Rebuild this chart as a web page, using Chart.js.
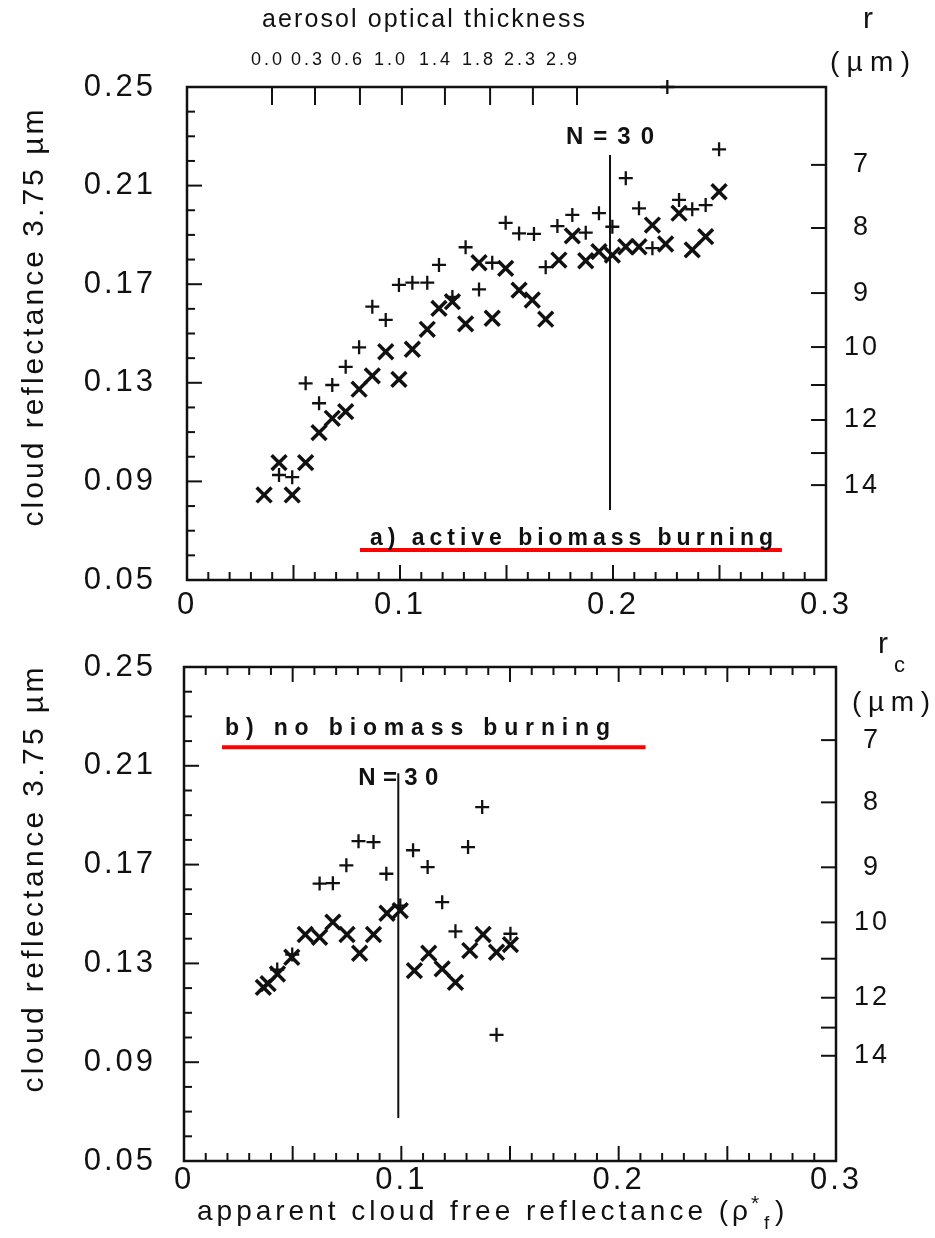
<!DOCTYPE html>
<html>
<head>
<meta charset="utf-8">
<script src="https://cdn.jsdelivr.net/npm/chart.js@4.4.1/dist/chart.umd.min.js"></script>
<style>
  body { margin: 0; background: #fff; }
  #wrap { position: relative; width: 935px; height: 1238px; }
  canvas { position: absolute; left: 0; }
</style>
</head>
<body>
<div id="wrap">
  <canvas id="panelA" width="935" height="625" style="top:0"></canvas>
  <canvas id="panelB" width="935" height="613" style="top:625px"></canvas>
</div>
<script>
// shared axes
const xMin = 0, xMax = 0.3;
const yMin = 0.05, yMax = 0.25;
const xTickVals = [0, 0.1, 0.2, 0.3];
const xTickLabels = ["0", "0.1", "0.2", "0.3"];
const yTickVals = [0.05, 0.09, 0.13, 0.17, 0.21, 0.25];

// aerosol optical thickness (top of panel a)
const aodLabels = ["0.0", "0.3", "0.6", "1.0", "1.4", "1.8", "2.3", "2.9"];
const aodLabelPos = [0.0380, 0.0568, 0.0756, 0.0958, 0.1169, 0.1371, 0.1568, 0.1765];
const aodTickPos = [0.0399, 0.0601, 0.0812, 0.1009, 0.1211, 0.1423, 0.1624, 0.1831];

// droplet radius scale on the right, placed at reflectance values
const rLabels = ["7", "8", "9", "10", "", "12", "", "14"];
const rPosA = [0.2184, 0.1928, 0.1664, 0.1445, 0.1291, 0.1149, 0.1015, 0.0885];
const rPosB = [0.2204, 0.1952, 0.1689, 0.1466, 0.1319, 0.1161, 0.1040, 0.0926];

// panel a: active biomass burning
const aPlusX = [0.0432, 0.0494, 0.0557, 0.0620, 0.0682, 0.0745, 0.0808, 0.0870, 0.0933, 0.0995, 0.1058, 0.1128,
  0.1183, 0.1246, 0.1308, 0.1371, 0.1433, 0.1496, 0.1559, 0.1629, 0.1684, 0.1739, 0.1809, 0.1872, 0.1934, 0.1997,
  0.2060, 0.2122, 0.2185, 0.2255, 0.2310, 0.2372, 0.2435, 0.2498];
const aPlusY = [0.0926, 0.0917, 0.1298, 0.1217, 0.1291, 0.1365, 0.1444, 0.1609, 0.1555, 0.1697, 0.1706, 0.1706,
  0.1778, 0.1648, 0.1850, 0.1679, 0.1787, 0.1949, 0.1906, 0.1904, 0.1769, 0.1936, 0.1981, 0.1909, 0.1988, 0.1933,
  0.2130, 0.2008, 0.1846, 0.2500, 0.2042, 0.2004, 0.2021, 0.2247];
const aCrossX = [0.0362, 0.0432, 0.0494, 0.0557, 0.0620, 0.0682, 0.0745, 0.0808, 0.0870, 0.0933, 0.0995, 0.1058,
  0.1128, 0.1183, 0.1246, 0.1308, 0.1371, 0.1433, 0.1496, 0.1559, 0.1621, 0.1684, 0.1746, 0.1809, 0.1872, 0.1934,
  0.1997, 0.2060, 0.2122, 0.2185, 0.2247, 0.2310, 0.2372, 0.2435, 0.2498];
const aCrossY = [0.0845, 0.0976, 0.0845, 0.0976, 0.1098, 0.1156, 0.1183, 0.1274, 0.1328, 0.1426, 0.1314, 0.1436,
  0.1517, 0.1602, 0.1629, 0.1539, 0.1787, 0.1562, 0.1764, 0.1676, 0.1636, 0.1558, 0.1798, 0.1896, 0.1795, 0.1832,
  0.1818, 0.1852, 0.1852, 0.1940, 0.1863, 0.1988, 0.1839, 0.1893, 0.2075];
const aNLineX = [0.1986, 0.1986];
const aNLineY = [0.2224, 0.0784];
const aRedX = [0.0812, 0.2793];
const aRedY = [0.0622, 0.0622];

// panel b: no biomass burning
const bPlusX = [0.0429, 0.0498, 0.0624, 0.0685, 0.0747, 0.0803, 0.0872, 0.0931, 0.0995, 0.1054, 0.1121, 0.1188,
  0.1249, 0.1307, 0.1372, 0.1438, 0.1502];
const bPlusY = [0.1275, 0.1336, 0.1623, 0.1625, 0.1697, 0.1795, 0.1791, 0.1663, 0.1534, 0.1758, 0.1690, 0.1548,
  0.1430, 0.1771, 0.1933, 0.1011, 0.1420];
const bCrossX = [0.0365, 0.0387, 0.0430, 0.0496, 0.0558, 0.0624, 0.0685, 0.0750, 0.0808, 0.0872, 0.0934, 0.0995,
  0.1060, 0.1126, 0.1188, 0.1249, 0.1315, 0.1376, 0.1438, 0.1502];
const bCrossY = [0.1203, 0.1218, 0.1257, 0.1325, 0.1417, 0.1406, 0.1467, 0.1417, 0.1341, 0.1417, 0.1503, 0.1514,
  0.1271, 0.1341, 0.1278, 0.1223, 0.1352, 0.1417, 0.1345, 0.1376];
const bNLineX = [0.0986, 0.0986];
const bNLineY = [0.2070, 0.0674];
const bRedX = [0.0175, 0.2124];
const bRedY = [0.2175, 0.2175];

const F = '"Liberation Sans", Arial, sans-serif';
Chart.defaults.font.family = F;
Chart.defaults.color = "#111";

const pts = (xs, ys) => xs.map((x, i) => ({ x: x, y: ys[i] }));

// draw a string stretched to a given width (the scan has very loose tracking)
function spread(ctx, str, left, cy, width, font) {
  ctx.font = font;
  ctx.letterSpacing = "0px";
  const w = ctx.measureText(str).width;
  const sp = str.length > 1 && width ? (width - w) / (str.length - 1) : 0;
  ctx.letterSpacing = sp + "px";
  ctx.textAlign = "left";
  ctx.textBaseline = "middle";
  ctx.fillText(str, left, cy);
  ctx.letterSpacing = "0px";
}

function line(ctx, x1, y1, x2, y2) {
  ctx.beginPath();
  ctx.moveTo(x1, y1);
  ctx.lineTo(x2, y2);
  ctx.stroke();
}

function decor(p) {
  return {
    id: "decor",
    beforeDraw(chart) { chart.ctx.letterSpacing = "3px"; },
    afterDraw(chart) {
      const { ctx, chartArea: a, scales } = chart;
      ctx.save();
      ctx.letterSpacing = "0px";
      ctx.strokeStyle = "#111";
      ctx.lineWidth = 2.5;
      ctx.strokeRect(a.left, a.top, a.right - a.left, a.bottom - a.top);

      ctx.lineWidth = 2;
      // left: minor every 0.01, major every 0.04
      for (let k = 5; k <= 25; k++) {
        const py = scales.y.getPixelForValue(k / 100);
        const len = (k - 5) % 4 === 0 ? 15 : 8;
        line(ctx, a.left, py, a.left + len, py);
      }
      // bottom (and top of panel b): minor 0.01, major 0.05
      for (let k = 0; k <= 30; k++) {
        const px = scales.x.getPixelForValue(k / 100);
        const len = k % 5 === 0 ? 15 : 8;
        line(ctx, px, a.bottom, px, a.bottom - len);
        if (!p.aod) line(ctx, px, a.top, px, a.top + len);
      }
      // right radius ticks
      p.rPos.forEach(v => {
        const py = scales.y.getPixelForValue(v);
        line(ctx, a.right, py, a.right - 15, py);
      });
      // aerosol ticks
      if (p.aod) {
        aodTickPos.forEach(v => {
          const px = scales.x.getPixelForValue(v);
          line(ctx, px, a.top, px, a.top + 18);
        });
      }

      ctx.fillStyle = "#111";
      p.texts.forEach(t => {
        if (t.rot) {
          ctx.save();
          ctx.translate(t.cx, t.cy);
          ctx.rotate(-Math.PI / 2);
          spread(ctx, t.s, -t.w / 2, 0, t.w, t.f);
          ctx.restore();
        } else {
          spread(ctx, t.s, t.left, t.cy, t.w || 0, t.f);
        }
      });
      const nx = scales.x.getPixelForValue(p.nX[0]);
      spread(ctx, "N=30", nx - p.nW / 2, p.nY, p.nW, "bold 24px " + F);
      ctx.restore();
    }
  };
}

// label offset goes through tickLength (marks hidden) so it does not pad the chart area
const hiddenGrid = len => ({ display: false, drawTicks: true, tickLength: len });

function makePanel(id, p) {
  const scales = {
    x: {
      type: "linear", min: xMin, max: xMax, position: "bottom",
      grid: hiddenGrid(p.xPad), border: { display: false },
      afterBuildTicks: s => { s.ticks = xTickVals.map(v => ({ value: v })); },
      afterFit: s => { s.height = p.xAxisH; },
      ticks: { callback: (v, i) => xTickLabels[i], font: { size: 31 }, padding: 0,
        autoSkip: false, maxRotation: 0, minRotation: 0 }
    },
    y: {
      type: "linear", min: yMin, max: yMax, position: "left",
      grid: hiddenGrid(p.yPad), border: { display: false },
      afterBuildTicks: s => { s.ticks = yTickVals.map(v => ({ value: v })); },
      afterFit: s => { s.width = p.left; },
      ticks: { callback: v => v.toFixed(2), font: { size: 31 }, padding: 0, autoSkip: false }
    },
    y2: {
      type: "linear", min: yMin, max: yMax, position: "right",
      grid: hiddenGrid(21), border: { display: false },
      afterBuildTicks: s => { s.ticks = p.rPos.map(v => ({ value: v })); },
      afterFit: s => { s.width = 935 - p.right; },
      ticks: { callback: (v, i) => rLabels[i], font: { size: 27 }, padding: 0,
        crossAlign: "center", autoSkip: false }
    }
  };
  if (p.aod) {
    scales.x2 = {
      type: "linear", min: xMin, max: xMax, position: "top",
      grid: hiddenGrid(16), border: { display: false },
      afterBuildTicks: s => { s.ticks = aodLabelPos.map(v => ({ value: v })); },
      afterFit: s => { s.height = p.top; },
      ticks: { callback: (v, i) => aodLabels[i], font: { size: 18 }, padding: 0,
        autoSkip: false, maxRotation: 0, minRotation: 0 }
    };
  }

  return new Chart(document.getElementById(id), {
    type: "scatter",
    data: {
      datasets: [
        { data: pts(p.plusX, p.plusY), pointStyle: "cross", pointRadius: 7, borderWidth: 2.3,
          borderColor: "#111", clip: false },
        { data: pts(p.crossX, p.crossY), pointStyle: "crossRot", pointRadius: 10.5, borderWidth: 3.5,
          borderColor: "#111", clip: false },
        { type: "line", data: pts(p.nX, p.nLineY), borderColor: "#111", borderWidth: 2, pointRadius: 0 },
        { type: "line", data: pts(p.redX, p.redY), borderColor: "#ff0000", borderWidth: 4, pointRadius: 0 }
      ]
    },
    options: {
      responsive: false,
      animation: false,
      devicePixelRatio: 1,
      events: [],
      layout: { padding: { top: p.aod ? 0 : p.top, left: 0, right: 0, bottom: 0 } },
      plugins: { legend: { display: false }, tooltip: { enabled: false } },
      scales: scales
    },
    plugins: [decor(p)]
  });
}

makePanel("panelA", {
  aod: true, top: 87, left: 187, right: 826, xAxisH: 45, xPad: 7, yPad: 31, rPos: rPosA,
  plusX: aPlusX, plusY: aPlusY, crossX: aCrossX, crossY: aCrossY,
  nX: aNLineX, nLineY: aNLineY, redX: aRedX, redY: aRedY, nY: 137, nW: 88,
  texts: [
    { s: "cloud reflectance 3.75 µm", rot: true, cx: 35, cy: 318, w: 417, f: "30px " + F },
    { s: "aerosol optical thickness", left: 262, cy: 20, w: 323, f: "25px " + F },
    { s: "r", left: 863, cy: 20, f: "30px " + F },
    { s: "(µm)", left: 830, cy: 63, w: 80, f: "28px " + F },
    { s: "a) active biomass burning", left: 370, cy: 539, w: 403, f: "bold 23px " + F }
  ]
});

makePanel("panelB", {
  aod: false, top: 42, left: 184, right: 836, xAxisH: 77, xPad: 1, yPad: 28, rPos: rPosB,
  plusX: bPlusX, plusY: bPlusY, crossX: bCrossX, crossY: bCrossY,
  nX: bNLineX, nLineY: bNLineY, redX: bRedX, redY: bRedY, nY: 153, nW: 80,
  texts: [
    { s: "cloud reflectance 3.75 µm", rot: true, cx: 35, cy: 255, w: 425, f: "30px " + F },
    { s: "b) no biomass burning", left: 225, cy: 104, w: 385, f: "bold 23px " + F },
    { s: "r", left: 878, cy: 20, f: "30px " + F },
    { s: "c", left: 894, cy: 41, f: "22px " + F },
    { s: "(µm)", left: 852, cy: 78, w: 78, f: "28px " + F },
    { s: "apparent cloud free reflectance (ρ", left: 197, cy: 587, w: 551, f: "28px " + F },
    { s: "*", left: 751, cy: 579, f: "21px " + F },
    { s: "f", left: 764, cy: 599, f: "19px " + F },
    { s: ")", left: 775, cy: 587, f: "28px " + F }
  ]
});
</script>
</body>
</html>
